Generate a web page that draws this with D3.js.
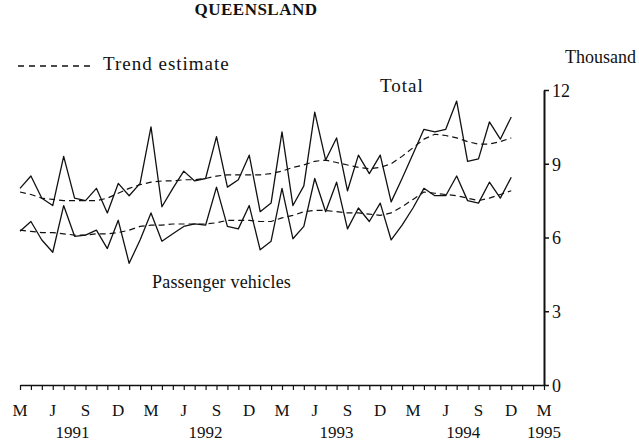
<!DOCTYPE html>
<html><head><meta charset="utf-8">
<script src="https://cdn.jsdelivr.net/npm/d3@7"></script>
<style>
body{margin:0;background:#fff}
svg{display:block}
text{font-family:"Liberation Serif","Times New Roman",serif;fill:#111}
</style>
</head><body>
<svg id="c" width="639" height="443"></svg>
<script>
// Monthly values, March 1991 .. December 1994 (thousand)
const total = [8.0,8.5,7.6,7.3,9.3,7.6,7.5,8.0,7.0,8.2,7.7,8.2,
  10.5,7.25,8.0,8.7,8.3,8.4,10.1,8.05,8.35,9.35,7.05,7.4,
  10.3,7.3,8.1,11.1,9.15,10.05,7.9,9.35,8.6,9.35,7.45,8.4,
  9.4,10.4,10.3,10.4,11.55,9.1,9.2,10.7,10.0,10.9];
const passenger = [6.25,6.65,5.9,5.4,7.3,6.05,6.1,6.3,5.55,6.7,4.95,5.9,
  7.0,5.85,6.15,6.45,6.55,6.5,8.05,6.45,6.35,7.3,5.5,5.85,
  8.0,5.95,6.45,8.4,7.05,8.25,6.35,7.2,6.65,7.4,5.9,6.5,
  7.2,8.0,7.7,7.7,8.5,7.5,7.4,8.25,7.6,8.45];
const totalTrend = [7.85,7.75,7.6,7.55,7.5,7.5,7.5,7.5,7.6,7.8,8.0,8.15,
  8.25,8.3,8.3,8.35,8.35,8.4,8.5,8.55,8.55,8.55,8.55,8.6,
  8.7,8.85,8.95,9.1,9.15,9.05,8.95,8.85,8.8,8.85,9.0,9.3,
  9.65,10.0,10.2,10.15,10.05,9.9,9.8,9.8,9.9,10.05];
const passengerTrend = [6.3,6.25,6.2,6.2,6.15,6.1,6.1,6.15,6.15,6.2,6.3,6.45,
  6.5,6.5,6.55,6.55,6.55,6.55,6.6,6.7,6.7,6.7,6.65,6.65,
  6.8,6.9,7.05,7.1,7.1,7.05,7.0,7.0,6.95,6.9,7.0,7.25,
  7.55,7.85,7.8,7.75,7.7,7.6,7.5,7.6,7.75,7.9];
const quarterLabels = ["M","J","S","D","M","J","S","D","M","J","S","D","M","J","S","D","M"];
const yearLabels = ["1991","1992","1993","1994","1995"];
const yearLabelMonth = [4.8,17,29,40.6,48];
const yTicks = [0,3,6,9,12];
const monthCount = 48;

const svg = d3.select("#c");
const x = d3.scaleLinear().domain([0, monthCount]).range([20, 544]);
const y = d3.scaleLinear().domain([0, 12]).range([385, 90]);

// title
svg.append("text").attr("x", 256).attr("y", 15).attr("text-anchor","middle")
  .attr("font-size", 17).attr("font-weight","bold").attr("letter-spacing", 0.5).text("QUEENSLAND");
svg.append("text").attr("x", 636).attr("y", 63).attr("text-anchor","end").attr("font-size", 18).text("Thousand");

// right axis
const yAxis = d3.axisRight(y).tickValues(yTicks).tickSize(5).tickPadding(3).tickSizeOuter(0);
const ga = svg.append("g").attr("transform", `translate(${x(monthCount)},0)`).call(yAxis);
ga.select(".domain").attr("stroke","#111").attr("stroke-width",2);
ga.selectAll(".tick line").attr("stroke","#111").attr("stroke-width",1.5);
ga.selectAll(".tick text").attr("font-size",18).attr("dy","0.35em")
  .style("font-family",'"Liberation Serif",serif').attr("fill","#111");

// bottom axis
const xAxis = d3.axisBottom(x).tickValues(d3.range(0, monthCount+1)).tickSize(5).tickFormat("").tickSizeOuter(0);
const gx = svg.append("g").attr("transform", `translate(0,${y(0)})`).call(xAxis);
gx.select(".domain").attr("stroke","#111").attr("stroke-width",1.5);
gx.selectAll(".tick line").attr("stroke","#111").attr("stroke-width",1.2);

svg.append("g").selectAll("text").data(quarterLabels).join("text")
  .attr("x",(d,i)=>x(i*3)).attr("y",416).attr("text-anchor","middle")
  .attr("font-size",17).text(d=>d);
svg.append("g").selectAll("text").data(yearLabels).join("text")
  .attr("x",(d,i)=>x(yearLabelMonth[i])).attr("y",438).attr("text-anchor","middle")
  .attr("font-size",17).text(d=>d);

// lines
const line = d3.line().x((d,i)=>x(i)).y(d=>y(d));
function draw(data, dashed){
  svg.append("path").datum(data).attr("d", line).attr("fill","none")
    .attr("stroke","#111").attr("stroke-width", dashed?1.2:1.3)
    .attr("stroke-dasharray", dashed?"6,4":null).attr("stroke-linejoin","round");
}
draw(totalTrend, true);
draw(passengerTrend, true);
draw(total, false);
draw(passenger, false);

// legend
svg.append("line").attr("x1",18).attr("x2",95).attr("y1",66).attr("y2",66)
  .attr("stroke","#111").attr("stroke-width",1.3).attr("stroke-dasharray","6,5");
svg.append("text").attr("x",103).attr("y",70).attr("font-size",19).attr("letter-spacing",1).text("Trend estimate");

// series labels
svg.append("text").attr("x",380).attr("y",92).attr("font-size",19).attr("letter-spacing",1).text("Total");
svg.append("text").attr("x",152).attr("y",288).attr("font-size",18).attr("letter-spacing",0.2).text("Passenger vehicles");
</script>
</body></html>
